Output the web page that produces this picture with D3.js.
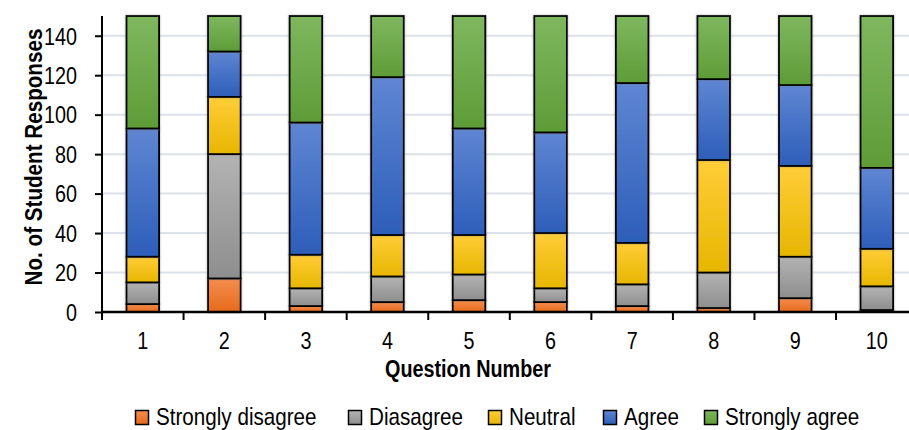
<!DOCTYPE html>
<html><head><meta charset="utf-8">
<script src="https://cdn.jsdelivr.net/npm/d3@7"></script>
<style>
html,body{margin:0;padding:0;background:#fff;}
svg{display:block;}
text{font-family:"Liberation Sans",Arial,sans-serif;fill:#000;}
</style></head>
<body>
<svg id="chart" width="909" height="430"></svg>
<script>
const questions = ["1","2","3","4","5","6","7","8","9","10"];
const seriesNames = ["Strongly disagree","Diasagree","Neutral","Agree","Strongly agree"];
const stronglyDisagree = [4,17,3,5,6,5,3,2,7,1];
const disagree = [11,63,9,13,13,7,11,18,21,12];
const neutral = [13,29,17,21,20,28,21,57,46,19];
const agree = [65,23,67,80,54,51,81,41,41,41];
const stronglyAgree = [57,18,54,31,57,59,34,32,35,77];
const yTicks = [0,20,40,60,80,100,120,140];
const colors = [
  ["#f58d4e","#e66a1c"],
  ["#b3b3b3","#8e8e8e"],
  ["#ffcd38","#e7b600"],
  ["#5f86d3","#2d5eb9"],
  ["#7fb75f","#5e9c37"]
];

const seriesValues = [stronglyDisagree, disagree, neutral, agree, stronglyAgree];
const rows = questions.map((q,i)=>{
  const r = {q};
  seriesNames.forEach((s,j)=> r[s] = seriesValues[j][i]);
  return r;
});

const SX = 0.86; // horizontal condensing of the narrow font
const svg = d3.select("#chart");
const mLeft = 102, mTop = 16, mBottom = 312, mRight = 917.6;
const x = d3.scaleBand().domain(questions).range([mLeft,mRight]).paddingInner(0.6).paddingOuter(0.3);
const y = d3.scaleLinear().domain([0,150]).range([mBottom,mTop]);

const defs = svg.append("defs");
colors.forEach((c,i)=>{
  const g = defs.append("linearGradient").attr("id","g"+i).attr("x1",0).attr("y1",0).attr("x2",0).attr("y2",1);
  g.append("stop").attr("offset","0%").attr("stop-color",c[0]);
  g.append("stop").attr("offset","100%").attr("stop-color",c[1]);
});
const f = defs.append("filter").attr("id","sh").attr("x","-20%").attr("y","-5%").attr("width","140%").attr("height","110%");
f.append("feDropShadow").attr("dx",0).attr("dy",0).attr("stdDeviation",1.2).attr("flood-color","#777").attr("flood-opacity",0.6);

// gridlines
svg.append("g").selectAll("line").data(yTicks.filter(d=>d>0)).join("line")
  .attr("x1",mLeft).attr("x2",909).attr("y1",d=>y(d)).attr("y2",d=>y(d))
  .attr("stroke","#dde2ea").attr("stroke-width",2);

// bars
const stack = d3.stack().keys(seriesNames)(rows);
const gBars = svg.append("g");
stack.forEach((layer,i)=>{
  gBars.append("g").selectAll("rect").data(layer).join("rect")
    .attr("x",d=>x(d.data.q)).attr("width",x.bandwidth())
    .attr("y",d=>y(d[1])).attr("height",d=>y(d[0])-y(d[1]))
    .attr("fill","url(#g"+i+")").attr("stroke","#000").attr("stroke-width",1.8)
    .attr("filter","url(#sh)");
});

// y axis
const yAxis = d3.axisLeft(y).tickValues(yTicks).tickSize(7).tickPadding(4);
const ya = svg.append("g").attr("transform",`translate(${mLeft},0)`).call(yAxis);
ya.select(".domain").attr("d",`M0,${mTop}V${mBottom}`).attr("stroke","#000").attr("stroke-width",2);
ya.selectAll(".tick line").attr("stroke","#000").attr("stroke-width",2);
ya.selectAll(".tick text").attr("font-size",23).attr("font-family",null)
  .attr("x",-25/SX).attr("dy","0.36em").attr("transform",`scale(${SX},1)`);

// x axis
const xa = svg.append("g").attr("transform",`translate(0,${mBottom})`).call(d3.axisBottom(x).tickSize(0));
xa.select(".domain").attr("d",`M${mLeft},0H909`).attr("stroke","#000").attr("stroke-width",2.5);
xa.selectAll(".tick text").attr("font-size",23).attr("font-family",null)
  .attr("y",0).attr("dy",0).attr("transform",`translate(0,${349-mBottom}) scale(${SX},1)`);
// category boundary ticks
const bounds = questions.map(q=>x(q)-x.step()*x.paddingInner()/2);
xa.append("g").selectAll("line").data(bounds).join("line")
  .attr("x1",d=>d).attr("x2",d=>d).attr("y1",0).attr("y2",8).attr("stroke","#000").attr("stroke-width",2);

// axis titles
svg.append("text").attr("transform",`translate(468,377) scale(${SX},1)`).attr("text-anchor","middle")
  .attr("font-size",23).attr("font-weight","bold").text("Question Number");
svg.append("text").attr("transform",`translate(41.5,157) rotate(-90) scale(${SX},1)`).attr("text-anchor","middle")
  .attr("font-size",24).attr("font-weight","bold").text("No. of Student Responses");

// legend
const legX = [135,348,488,603,704];
const leg = svg.append("g");
seriesNames.forEach((s,i)=>{
  const g = leg.append("g").attr("transform",`translate(${legX[i]},0)`);
  g.append("rect").attr("x",0.5).attr("y",410.5).attr("width",13).attr("height",14)
    .attr("fill","url(#g"+i+")").attr("stroke","#000").attr("stroke-width",1.5);
  g.append("text").attr("transform",`translate(21,425) scale(${SX},1)`).attr("font-size",24).text(s);
});
</script>
</body></html>
